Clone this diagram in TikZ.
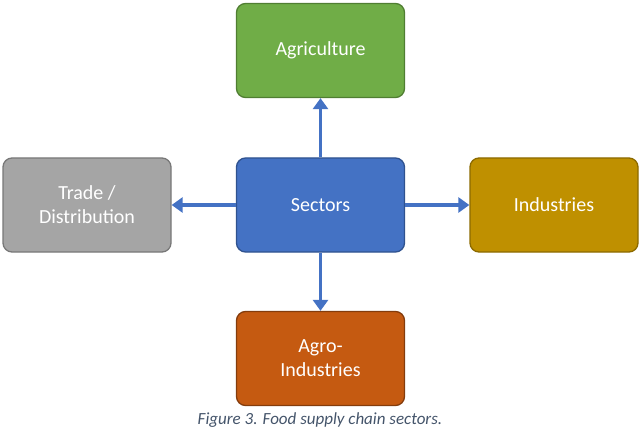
\documentclass[tikz,border=0pt]{standalone}
\usepackage{fontspec}
\setmainfont{Carlito}
\usetikzlibrary{arrows.meta}
\definecolor{agc}{HTML}{70AD47}\definecolor{agb}{HTML}{507E32}
\definecolor{sec}{HTML}{4472C4}\definecolor{seb}{HTML}{2F528F}
\definecolor{trc}{HTML}{A5A5A5}\definecolor{trb}{HTML}{787878}
\definecolor{inc}{HTML}{BF9000}\definecolor{inb}{HTML}{8C6A00}
\definecolor{aic}{HTML}{C55A11}\definecolor{aib}{HTML}{843C0C}
\definecolor{capc}{HTML}{44546A}
\tikzset{box/.style={rounded corners=9pt,line width=1.3pt,minimum width=168pt,minimum height=94pt,text=white,align=center,font=\fontsize{20}{24}\selectfont},
arr/.style={sec,line width=3.5pt,-{Triangle[length=11pt,width=15pt]}}}
\begin{document}
\begin{tikzpicture}[x=1pt,y=-1pt]
\useasboundingbox (0,0) rectangle (640,433);
\node[box,fill=agc,draw=agb] (ag) at (320.5,50.5) {Agriculture};
\node[box,fill=sec,draw=seb] (se) at (320.5,205) {Sectors};
\node[box,fill=trc,draw=trb] (tr) at (87,205) {Trade /\\Distribution};
\node[box,fill=inc,draw=inb] (in) at (554,205) {Industries};
\node[box,fill=aic,draw=aib] (ai) at (320.5,358.5) {Agro-\\Industries};
\draw[arr] (se) -- (ag);
\draw[arr] (se) -- (tr);
\draw[arr] (se) -- (in);
\draw[arr] (se) -- (ai);
\node[font=\itshape\fontsize{17}{20}\selectfont,text=capc] (cap) at (320,420) {Figure 3. Food supply chain sectors.};
\end{tikzpicture}
\end{document}
